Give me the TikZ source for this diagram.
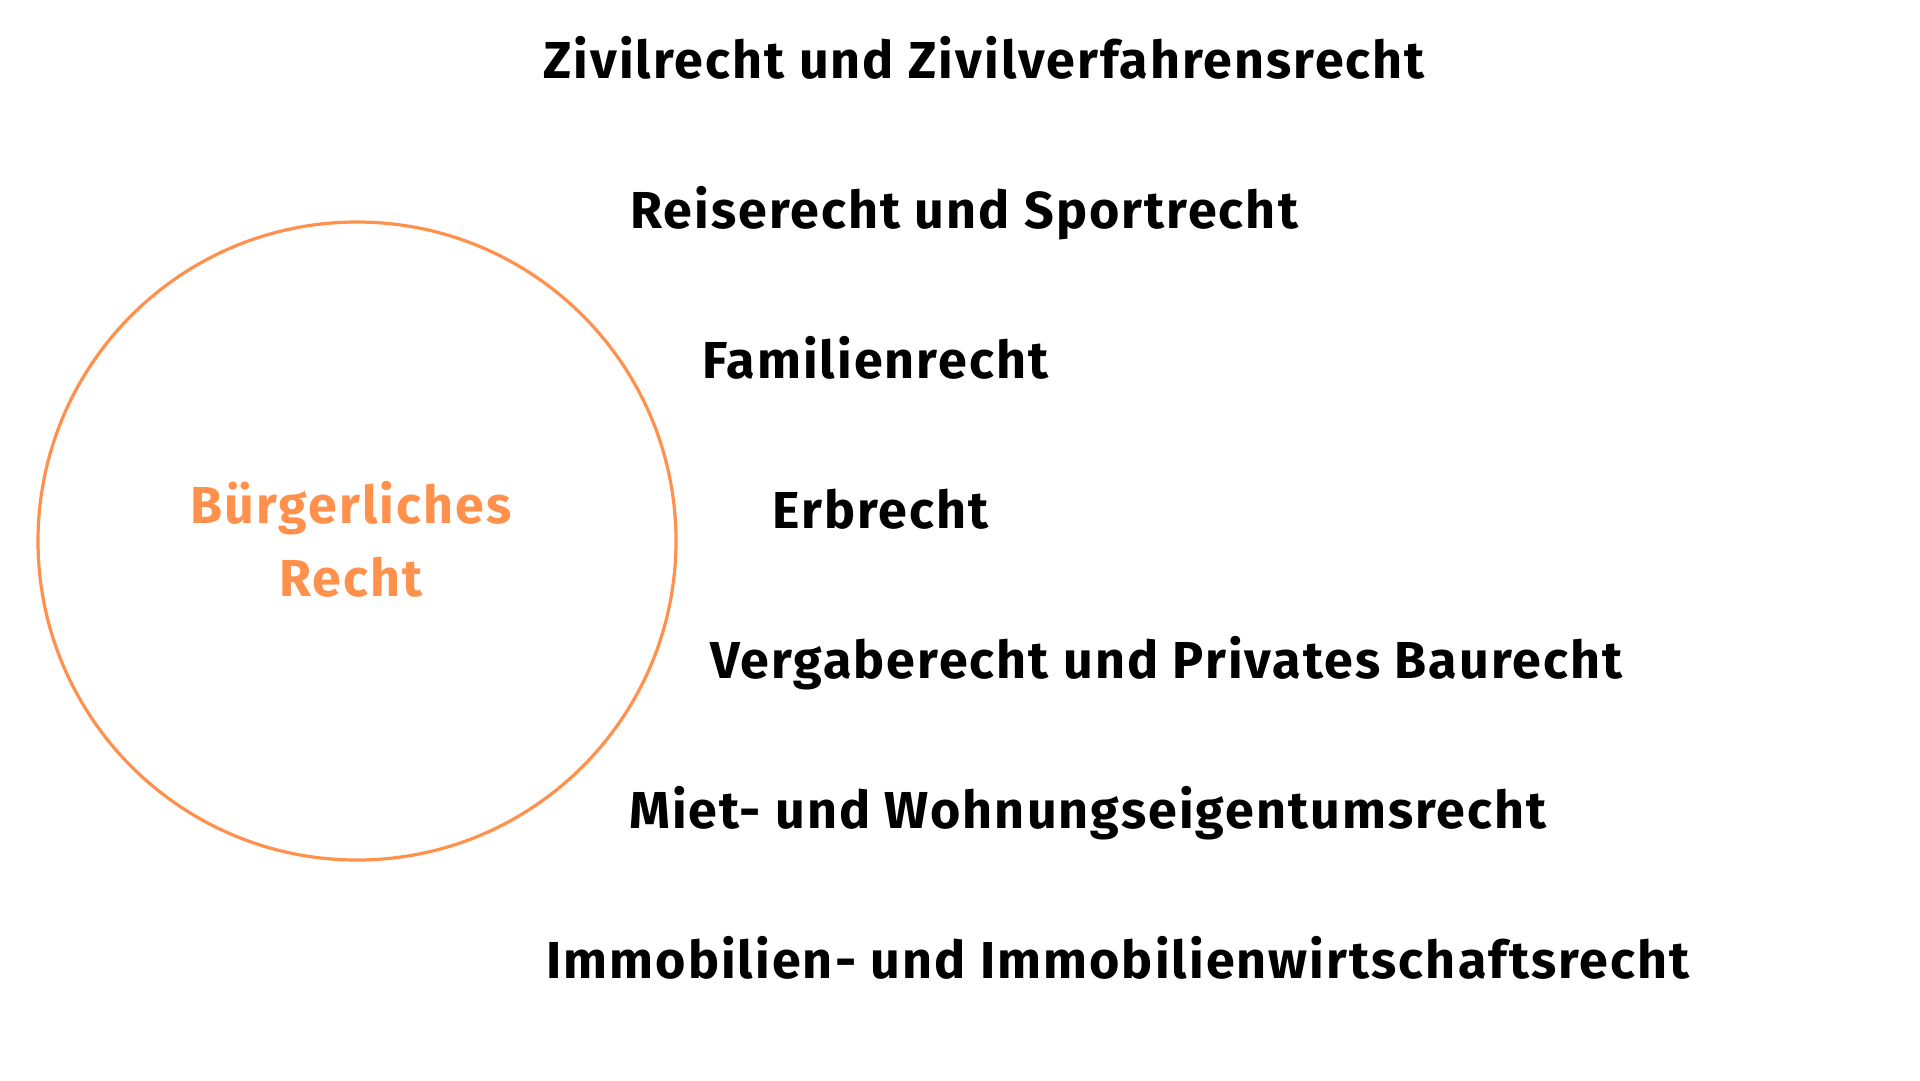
\documentclass[tikz,border=0pt]{standalone}
\usepackage{fontspec}
\setmainfont{Fira Sans}[UprightFont=* Bold, BoldFont=* Bold, LetterSpace=4]
\definecolor{orng}{HTML}{FF914D}
\begin{document}
\begin{tikzpicture}[x=1pt,y=-1pt,
  item/.style={anchor=base west,inner sep=0pt,font=\fontsize{52}{60}\selectfont,text=black},
  hub/.style={circle,draw=orng,line width=3.2pt,minimum size=638pt,inner sep=0pt}]
\useasboundingbox[fill=white] (0,0) rectangle (1920,1080);
\node[hub] (c) at (357,541) {};
\node[anchor=base,inner sep=0pt,text=orng,font=\fontsize{52}{73}\selectfont,align=center] (t) at (351,596) {Bürgerliches\\Recht};
\node[item] (a1) at (543,78) {Zivilrecht und Zivilverfahrensrecht};
\node[item] (a2) at (630,228) {Reiserecht und Sportrecht};
\node[item] (a3) at (702,378) {Familienrecht};
\node[item] (a4) at (772,528) {Erbrecht};
\node[item] (a5) at (710,678) {Vergaberecht und Privates Baurecht};
\node[item] (a6) at (629,828) {Miet- und Wohnungseigentumsrecht};
\node[item] (a7) at (546,978) {Immobilien- und Immobilienwirtschaftsrecht};
\end{tikzpicture}
\end{document}
